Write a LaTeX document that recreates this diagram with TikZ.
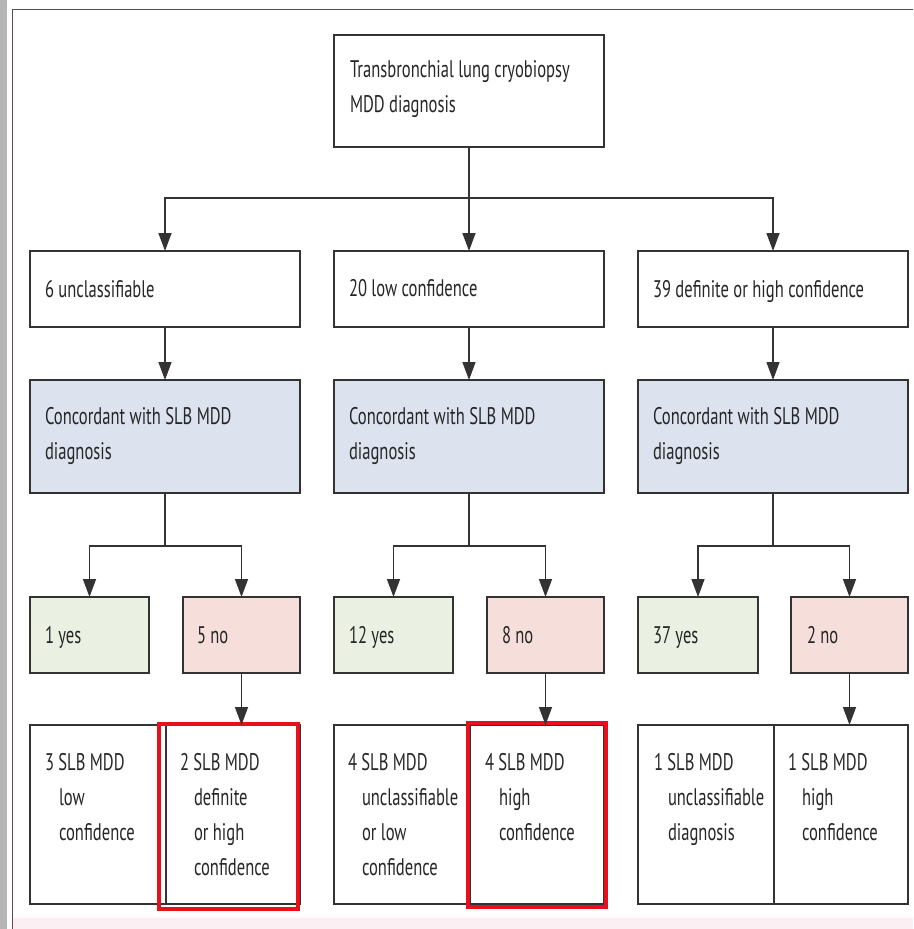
\documentclass[tikz,border=0pt]{standalone}
\usepackage{fontspec}
\setmainfont{PT Sans}[FakeStretch=0.69]
\usetikzlibrary{arrows.meta,calc}

\definecolor{linec}{HTML}{333333}
\definecolor{txtc}{HTML}{262626}
\definecolor{bluef}{HTML}{DCE2EE}
\definecolor{greenf}{HTML}{EAF1E3}
\definecolor{pinkf}{HTML}{F6DFDB}
\definecolor{hired}{HTML}{E8101A}
\definecolor{framec}{HTML}{5E4A55}
\definecolor{stripc}{HTML}{B5B5B5}
\definecolor{footc}{HTML}{FCEFF4}

\newcommand{\boxtext}[1]{\parbox[t]{260pt}{\raggedright #1}}
\newcommand{\ind}{\hspace*{14pt}}

\tikzset{
  cell/.style={draw=linec, line width=1.6pt, inner sep=0pt, outer sep=0pt,
    anchor=north west, minimum width=#1},
  plain/.style={cell=#1, fill=white},
  concord/.style={cell=#1, fill=bluef},
  yesbox/.style={cell=#1, fill=greenf},
  nobox/.style={cell=#1, fill=pinkf},
  txt/.style={anchor=base west, inner sep=0pt, outer sep=0pt, text=txtc,
    font=\fontsize{24}{35}\selectfont},
  link/.style={draw=linec, line width=1.4pt},
  arr/.style={link, -{Triangle[width=13pt,length=18pt]}},
  highlight/.style={draw=hired, line width=4pt, inner sep=0pt, outer sep=0pt,
    anchor=north west},
}

\begin{document}
\begin{tikzpicture}[x=1pt, y=-1pt]
\useasboundingbox (0,0) rectangle (913,929);

% page frame
\fill[stripc] (0,0) rectangle (7,929);
\fill[footc] (13,918) rectangle (913,929);
\draw[framec, line width=1.6pt] (12.5,929) -- (12.5,9.5) -- (913,9.5);

% top box
\node[plain=270pt, minimum height=112pt] (top) at (334,35) {};

% first split
\node[plain=270pt, minimum height=76pt] (unc) at (30,251) {};
\node[plain=270pt, minimum height=76pt] (low) at (334,251) {};
\node[plain=270pt, minimum height=76pt] (def) at (638,251) {};

% concordance boxes
\node[concord=270pt, minimum height=113pt] (cA) at (30,380) {};
\node[concord=270pt, minimum height=113pt] (cB) at (334,380) {};
\node[concord=270pt, minimum height=113pt] (cC) at (638,380) {};

% yes / no boxes
\node[yesbox=119pt, minimum height=76pt] (yA) at (30,597) {};
\node[nobox=117pt, minimum height=76pt] (nA) at (183,597) {};
\node[yesbox=119pt, minimum height=76pt] (yB) at (334,597) {};
\node[nobox=117pt, minimum height=76pt] (nB) at (487,597) {};
\node[yesbox=120pt, minimum height=76pt] (yC) at (638,597) {};
\node[nobox=117pt, minimum height=76pt] (nC) at (791,597) {};

% SLB outcome cells
\node[plain=136pt, minimum height=179pt] (sA1) at (30,725) {};
\node[plain=134pt, minimum height=179pt] (sA2) at (166,725) {};
\node[plain=136pt, minimum height=179pt] (sB1) at (334,725) {};
\node[plain=134pt, minimum height=179pt] (sB2) at (470,725) {};
\node[plain=136pt, minimum height=179pt] (sC1) at (638,725) {};
\node[plain=134pt, minimum height=179pt] (sC2) at (774,725) {};

% highlighted outcomes
\node[highlight, minimum width=139pt, minimum height=185pt] (hA) at (159,724) {};
\node[highlight, minimum width=138pt, minimum height=184pt] (hB) at (468,723) {};

% texts
\node[txt] (tTop) at (350,77) {\boxtext{Transbronchial lung cryobiopsy\\MDD diagnosis}};
\node[txt] (tUnc) at (45,297) {6 unclassifiable};
\node[txt] (tLow) at (349,296) {20 low confidence};
\node[txt] (tDef) at (653,297) {39 definite or high confidence};
\node[txt] (tcA) at (45,424) {\boxtext{Concordant with SLB MDD\\diagnosis}};
\node[txt] (tcB) at (349,424) {\boxtext{Concordant with SLB MDD\\diagnosis}};
\node[txt] (tcC) at (653,424) {\boxtext{Concordant with SLB MDD\\diagnosis}};
\node[txt] (tyA) at (45,643) {1 yes};
\node[txt] (tnA) at (197,643) {5 no};
\node[txt] (tyB) at (349,643) {12 yes};
\node[txt] (tnB) at (502,643) {8 no};
\node[txt] (tyC) at (653,643) {37 yes};
\node[txt] (tnC) at (807,643) {2 no};
\node[txt] (tsA1) at (45,770) {\boxtext{3 SLB MDD\\\ind low\\\ind confidence}};
\node[txt] (tsA2) at (180,770) {\boxtext{2 SLB MDD\\\ind definite\\\ind or high\\\ind confidence}};
\node[txt] (tsB1) at (348,770) {\boxtext{4 SLB MDD\\\ind unclassifiable\\\ind or low\\\ind confidence}};
\node[txt] (tsB2) at (485,770) {\boxtext{4 SLB MDD\\\ind high\\\ind confidence}};
\node[txt] (tsC1) at (654,770) {\boxtext{1 SLB MDD\\\ind unclassifiable\\\ind diagnosis}};
\node[txt] (tsC2) at (788,770) {\boxtext{1 SLB MDD\\\ind high\\\ind confidence}};

% connectors: top split
\coordinate (j0) at (469,198);
\draw[link] (top.south) -- (j0);
\draw[arr] (j0) -| (unc.north);
\draw[arr] (j0) -- (low.north);
\draw[arr] (j0) -| (def.north);

\draw[arr] (unc.south) -- (cA.north);
\draw[arr] (low.south) -- (cB.north);
\draw[arr] (def.south) -- (cC.north);

% connectors: yes / no branches
\foreach \c/\y/\n in {cA/yA/nA, cB/yB/nB, cC/yC/nC}{
  \coordinate (j-\c) at ($(\c.south)+(0,53)$);
  \draw[link] (\c.south) -- (j-\c);
  \draw[arr] (j-\c) -| (\y.north);
  \draw[arr] (j-\c) -| (\n.north);
}

% connectors: "no" to SLB outcome
\draw[arr] (nA.south) -- (nA.south |- sA2.north);
\draw[arr] (nB.south) -- (nB.south |- sB2.north);
\draw[arr] (nC.south) -- (nC.south |- sC2.north);
\end{tikzpicture}
\end{document}
